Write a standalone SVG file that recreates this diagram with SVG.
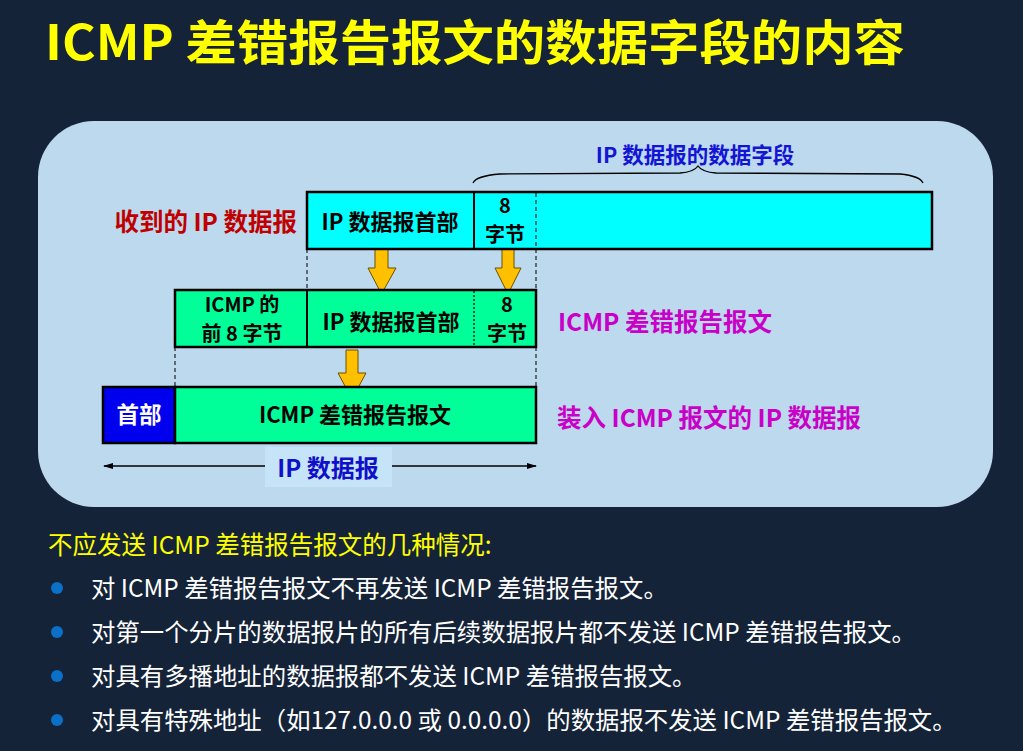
<svg xmlns="http://www.w3.org/2000/svg" width="1023" height="751" viewBox="0 0 1023 751">
<defs>
<style>
.cjk{font-family:"Noto Sans CJK SC","Noto Sans",sans-serif}
.b{font-weight:bold}
.box{stroke:#000;stroke-width:2.5}
.dash{stroke:#222;stroke-width:1.2;stroke-dasharray:4,3;fill:none}
.dot{stroke:#222;stroke-width:1.5;stroke-dasharray:2,2;fill:none}
.arr{fill:#ffc000;stroke:#6a5000;stroke-width:1}
.lbl{font-size:22px;fill:#000;text-anchor:middle}
.two{font-size:20px;fill:#000;text-anchor:middle}
.item{font-size:24.4px;fill:#fff}
.mag{font-size:24.5px;fill:#c800c8}
</style>
<marker id="ah" markerWidth="10" markerHeight="8" refX="9" refY="4" orient="auto" markerUnits="userSpaceOnUse">
<path d="M0,1 L10,4 L0,7 Z" fill="#000"/>
</marker>
<marker id="ahs" markerWidth="10" markerHeight="8" refX="1" refY="4" orient="auto" markerUnits="userSpaceOnUse">
<path d="M10,1 L0,4 L10,7 Z" fill="#000"/>
</marker>
</defs>
<rect width="1023" height="751" fill="#152338"/>
<text x="45" y="60" class="cjk b" font-size="48" fill="#ffff00" textLength="860" lengthAdjust="spacingAndGlyphs">ICMP 差错报告报文的数据字段的内容</text>
<rect x="38" y="121" width="955" height="386" rx="56" fill="#bcd9ee"/>

<g id="connectors">
<path class="dash" d="M307,249 V290 M536,249 V290 M175,347 V388 M536,347 V388"/>
<path d="M473,183 Q476,176 500,174 L680,173 Q694,172 698,166 Q702,172 716,173 L900,174 Q920,176 923,183" fill="none" stroke="#000" stroke-width="1.3"/>
<path class="arr" d="M375,247 H388 V268 H396 L381.5,294 L368,268 H375 Z"/>
<path class="arr" d="M502,247 H514 V268 H521 L508,294 L495,268 H502 Z"/>
<path class="arr" d="M346,350 H358 V373 H366 L352,399 L338,373 H346 Z"/>
<line x1="104" y1="466" x2="536" y2="466" stroke="#000" stroke-width="1.3" marker-start="url(#ahs)" marker-end="url(#ah)"/>
</g>

<g id="received">
<rect class="box" x="307" y="192" width="625" height="57" fill="#00ffff"/>
<line x1="474" y1="192" x2="474" y2="249" stroke="#000" stroke-width="2"/>
<line class="dash" x1="536" y1="193" x2="536" y2="248"/>
<text x="390" y="230" class="cjk b lbl">IP 数据报首部</text>
<text x="505" y="213" class="cjk b two">8</text>
<text x="505" y="242" class="cjk b two">字节</text>
<text x="297" y="231" class="cjk b" font-size="24.5" fill="#c00000" text-anchor="end">收到的 IP 数据报</text>
<text x="695" y="163" class="cjk b" font-size="21.5" fill="#1414d4" text-anchor="middle">IP 数据报的数据字段</text>
</g>

<g id="icmp">
<rect class="box" x="175" y="290" width="361" height="57" fill="#00ff99"/>
<line x1="307" y1="290" x2="307" y2="347" stroke="#000" stroke-width="2"/>
<line class="dot" x1="474" y1="291" x2="474" y2="346"/>
<text x="242" y="312" class="cjk b two">ICMP 的</text>
<text x="242" y="341" class="cjk b two">前 8 字节</text>
<text x="391" y="330" class="cjk b lbl">IP 数据报首部</text>
<text x="507" y="312" class="cjk b two">8</text>
<text x="507" y="341" class="cjk b two">字节</text>
<text x="558" y="331" class="cjk b mag">ICMP 差错报告报文</text>
</g>

<g id="ipdatagram">
<rect class="box" x="103" y="387" width="72" height="56" fill="#0000ee"/>
<rect class="box" x="175" y="387" width="361" height="56" fill="#00ff99"/>
<text x="139" y="423" class="cjk b" font-size="22.5" fill="#fff" text-anchor="middle">首部</text>
<text x="355" y="423" class="cjk b lbl">ICMP 差错报告报文</text>
<text x="557" y="427" class="cjk b mag">装入 ICMP 报文的 IP 数据报</text>
</g>

<g id="iplabel">
<rect x="265" y="447" width="127" height="40" fill="#c6e4f8"/>
<text x="328" y="477" class="cjk b" font-size="24" fill="#1010c8" text-anchor="middle">IP 数据报</text>
</g>

<g id="notes">
<text x="48" y="554" class="cjk" font-size="24.5" fill="#ffff00">不应发送 ICMP 差错报告报文的几种情况:</text>
<g fill="#0a70c8">
<circle cx="57" cy="588" r="6"/>
<circle cx="57" cy="632" r="6"/>
<circle cx="57" cy="676" r="6"/>
<circle cx="57" cy="720" r="6"/>
</g>
<text x="91" y="597" class="cjk item">对 ICMP 差错报告报文不再发送 ICMP 差错报告报文。</text>
<text x="91" y="641" class="cjk item">对第一个分片的数据报片的所有后续数据报片都不发送 ICMP 差错报告报文。</text>
<text x="91" y="685" class="cjk item">对具有多播地址的数据报都不发送 ICMP 差错报告报文。</text>
<text x="91" y="729" class="cjk item">对具有特殊地址（如127.0.0.0 或 0.0.0.0）的数据报不发送 ICMP 差错报告报文。</text>
</g>
</svg>
